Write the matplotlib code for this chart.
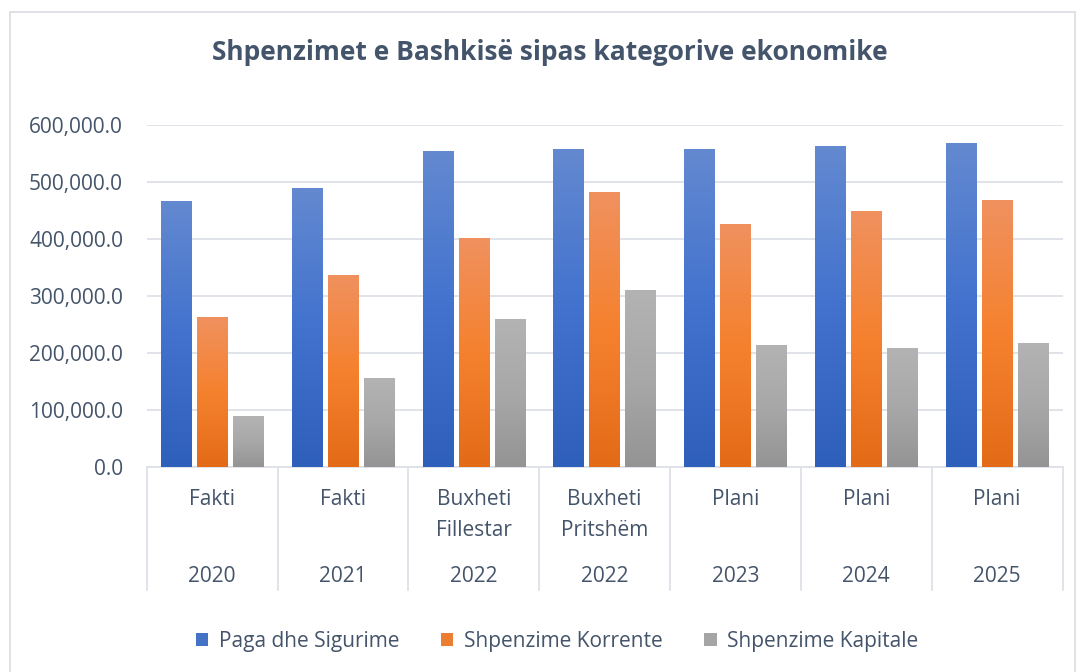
import numpy as np
import matplotlib
matplotlib.use("Agg")
import matplotlib.pyplot as plt
from matplotlib.colors import LinearSegmentedColormap
from matplotlib.patches import Rectangle
from matplotlib.transforms import blended_transform_factory

plt.rcParams['font.family'] = ['Open Sans', 'DejaVu Sans']

# data
stage_labels = ["Fakti", "Fakti", "Buxheti\nFillestar", "Buxheti\nPritshëm", "Plani", "Plani", "Plani"]
year_labels = ["2020", "2021", "2022", "2022", "2023", "2024", "2025"]
series_names = ["Paga dhe Sigurime", "Shpenzime Korrente", "Shpenzime Kapitale"]
paga = [465000, 487700, 552600, 556100, 556100, 561300, 566600]
korrente = [261700, 335300, 400100, 480700, 424600, 447400, 466700]
kapitale = [88200, 154800, 258200, 309000, 212600, 207400, 216100]
yticks = [0, 100000, 200000, 300000, 400000, 500000, 600000]

text_color = "#44546A"
grid_color = "#DDE1E7"
gradients = [
    ["#2E5FBA", "#4272CE", "#6389D0"],
    ["#E36B18", "#F5812E", "#F0915F"],
    ["#949494", "#A8A8A8", "#B3B3B3"],
]
solid = ["#4472C4", "#ED7D31", "#A5A5A5"]

W, H = 1080, 672
fig = plt.figure(figsize=(W / 100, H / 100), dpi=100)
fig.patch.set_facecolor("white")

# outer chart border
fig.patches.append(Rectangle((10 / W, -0.05), 1065 / W, 1 - 12 / H + 0.05,
                             transform=fig.transFigure, fill=False,
                             edgecolor="#D9DCE1", linewidth=1.2))

left, right, top, bottom = 146.7, 1062.5, 125.0, 467.3
ax = fig.add_axes([left / W, 1 - bottom / H, (right - left) / W, (bottom - top) / H])

n = len(year_labels)
x = np.arange(n)
width = 0.233
step = 0.275

grad = np.linspace(0, 1, 256).reshape(-1, 1)
for i, vals in enumerate([paga, korrente, kapitale]):
    cmap = LinearSegmentedColormap.from_list(f"g{i}", gradients[i])
    xs = x + (i - 1) * step
    for xc, v in zip(xs, vals):
        ax.imshow(grad, cmap=cmap, origin="lower", aspect="auto",
                  extent=(xc - width / 2, xc + width / 2, 0, v), zorder=3)
ax.set_xlim(-0.5, n - 0.5)
ax.set_ylim(0, 600000)

ax.set_yticks(yticks)
ax.set_yticklabels([f"{v:,.1f}" for v in yticks])
ax.yaxis.grid(True, color=grid_color, linewidth=1.3)
ax.set_axisbelow(True)
ax.tick_params(axis="y", length=0, pad=17, labelsize=15, labelcolor=text_color)
ax.set_xticks([])
for s in ["top", "right", "left"]:
    ax.spines[s].set_visible(False)
ax.spines["bottom"].set_color(grid_color)
ax.spines["bottom"].set_linewidth(1.3)


def px_to_axes(py):
    return (bottom - py) / (bottom - top)


# multi-level category axis
trans = blended_transform_factory(ax.transData, ax.transAxes)
for b in np.arange(n + 1) - 0.5:
    ax.plot([b, b], [0, px_to_axes(590)], transform=trans, color=grid_color,
            linewidth=1.3, clip_on=False)
for xi, st, yr in zip(x, stage_labels, year_labels):
    ax.text(xi, px_to_axes(489), st, transform=trans, ha="center", va="top",
            fontsize=15, color=text_color, linespacing=1.6)
    ax.text(xi, px_to_axes(576), yr, transform=trans, ha="center", va="center",
            fontsize=15, color=text_color)

fig.text(550 / W, 1 - 52 / H, "Shpenzimet e Bashkisë sipas kategorive ekonomike",
         ha="center", va="center", fontsize=19, fontweight="bold", color=text_color)

handles = [Rectangle((0, 0), 1, 1, facecolor=c) for c in solid]
leg = fig.legend(handles, series_names, loc="center", bbox_to_anchor=(557 / W, 1 - 641 / H),
                 ncol=3, frameon=False, fontsize=15, handlelength=0.6, handleheight=0.6,
                 handletextpad=0.5, columnspacing=2.0)
for t in leg.get_texts():
    t.set_color(text_color)

fig.savefig("out.png", dpi=100, facecolor="white")
